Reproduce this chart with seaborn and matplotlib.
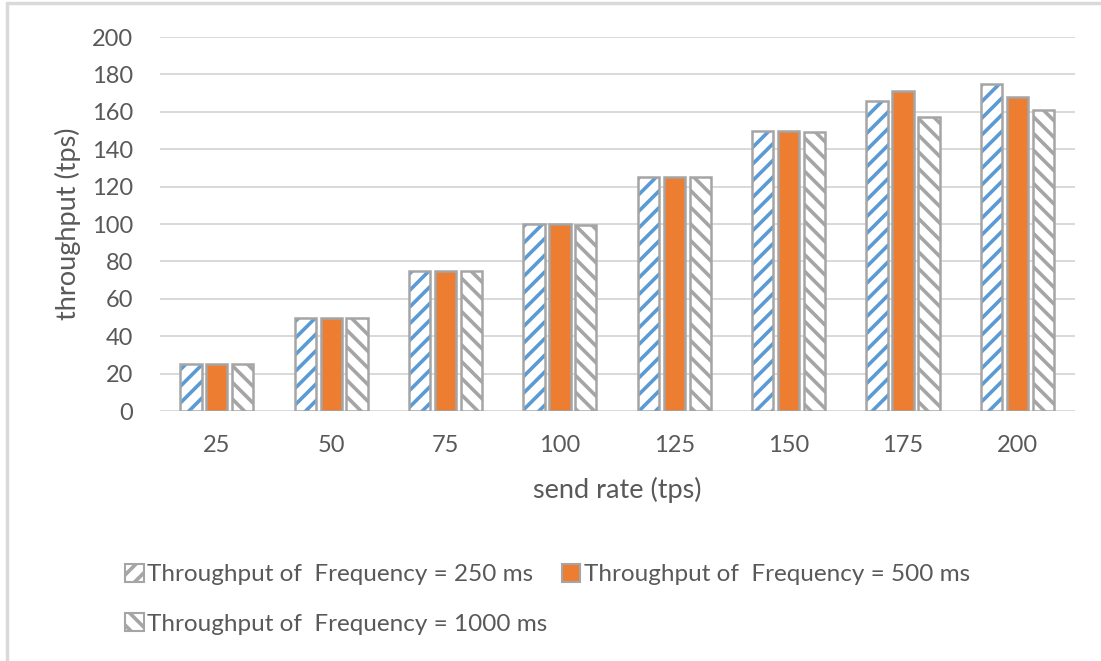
import matplotlib
matplotlib.use("Agg")
import matplotlib.pyplot as plt
from matplotlib.lines import Line2D
from matplotlib.patches import Patch
import seaborn as sns
import pandas as pd

send_rates = ["25", "50", "75", "100", "125", "150", "175", "200"]
freq_250 = [25, 50, 75, 100, 125, 150, 166, 175]
freq_500 = [25, 50, 75, 100, 125, 150, 171, 168]
freq_1000 = [25, 50, 75, 99.5, 125, 149, 157, 161]
series_names = [
    "Throughput of  Frequency = 250 ms",
    "Throughput of  Frequency = 500 ms",
    "Throughput of  Frequency = 1000 ms",
]
y_ticks = [0, 20, 40, 60, 80, 100, 120, 140, 160, 180, 200]

TEXT = "#595959"
GRID = "#D9D9D9"
EDGE = "#A5A5A5"
BLUE = "#5B9BD5"
ORANGE = "#ED7D31"

sns.set_theme(style="white")
plt.rcParams["font.family"] = ["Lato", "DejaVu Sans"]
plt.rcParams["hatch.linewidth"] = 2.6

df = pd.DataFrame({
    "send rate": send_rates * 3,
    "throughput": freq_250 + freq_500 + freq_1000,
    "series": [series_names[0]] * 8 + [series_names[1]] * 8 + [series_names[2]] * 8,
})

fig = plt.figure(figsize=(11.01, 6.61), dpi=100)
ax = fig.add_axes([0.145, 0.378, 0.831, 0.566])

fill_colors = ["white", ORANGE, "white"]
hatch_colors = [BLUE, ORANGE, EDGE]
hatches = ["//", "", "\\\\"]
bar_kw = dict(data=df, x="send rate", y="throughput", hue="series",
              hue_order=series_names, order=send_rates, width=0.68, gap=0.18,
              palette=fill_colors, ax=ax, legend=False)

# fills (hatch drawn with the edge colour, no outline)
sns.barplot(zorder=2, **bar_kw)
n = len(send_rates)
for i, p in enumerate(ax.patches):
    s = i // n
    p.set_facecolor(fill_colors[s])
    p.set_edgecolor(hatch_colors[s])
    p.set_hatch(hatches[s])
    p.set_linewidth(0)

# gray outlines on top
sns.barplot(zorder=3, **bar_kw)
for p in ax.patches[3 * n:]:
    p.set_facecolor("none")
    p.set_edgecolor(EDGE)
    p.set_linewidth(1.8)

ax.set_ylim(0, 200)
ax.set_xlim(-0.5, n - 0.5)
ax.set_yticks(y_ticks)
ax.yaxis.grid(True, color=GRID, linewidth=1.4, zorder=0)
ax.set_axisbelow(True)
for sp in ax.spines.values():
    sp.set_visible(False)
ax.tick_params(axis="both", length=0, labelsize=17, labelcolor=TEXT)
ax.tick_params(axis="x", pad=17)
ax.tick_params(axis="y", pad=19)
ax.set_xlabel("send rate (tps)", fontsize=19.5, color=TEXT, labelpad=15)
ax.set_ylabel("throughput (tps)", fontsize=19.5, color=TEXT, labelpad=8)

patch_h = [
    Patch(facecolor="white", edgecolor=BLUE, hatch="//", linewidth=0),
    Patch(facecolor=ORANGE, edgecolor=ORANGE, linewidth=0),
    Patch(facecolor="white", edgecolor=EDGE, hatch="\\\\", linewidth=0),
]
# legend fills column-wise; reorder so rows read 250, 500 / 1000
order = [0, 2, 1]
leg = fig.legend([patch_h[i] for i in order], [series_names[i] for i in order],
                 loc="upper left", bbox_to_anchor=(0.094, 0.18),
                 ncol=2, frameon=False, fontsize=17.5, labelcolor=TEXT,
                 handlelength=0.75, handleheight=0.75, handletextpad=0.15,
                 columnspacing=0.6, labelspacing=1.15)
for h in leg.legend_handles:
    h.set_linewidth(1.5)
    h.set_edgecolor(EDGE)

# outer chart border (left and top visible)
fig.add_artist(Line2D([0.006, 0.006], [0.0, 0.995], color=GRID, linewidth=2.5,
                      transform=fig.transFigure))
fig.add_artist(Line2D([0.006, 1.0], [0.995, 0.995], color=GRID, linewidth=2.5,
                      transform=fig.transFigure))

fig.savefig("out.png", dpi=100)
